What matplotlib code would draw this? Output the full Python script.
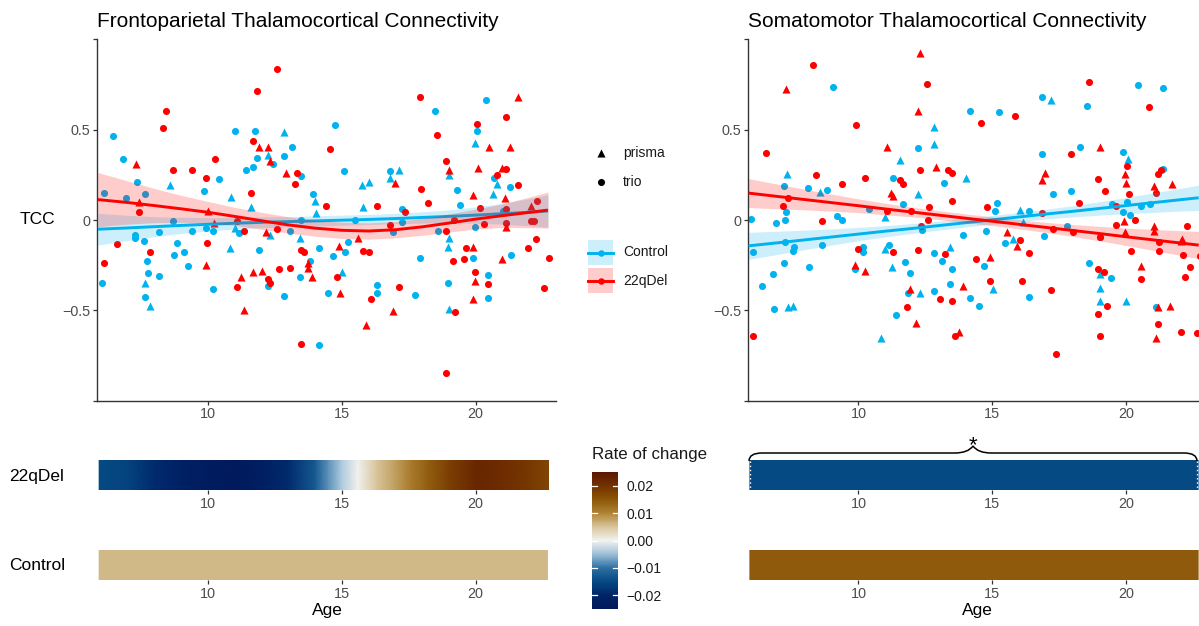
import numpy as np
import matplotlib
matplotlib.use("Agg")
import matplotlib.pyplot as plt
from matplotlib.colors import LinearSegmentedColormap, Normalize
from matplotlib.cm import ScalarMappable
from matplotlib.path import Path
from matplotlib.patches import PathPatch, Rectangle

plt.rcParams['font.family'] = ['Liberation Sans', 'DejaVu Sans']

# ---------------- data: frontoparietal panel ----------------
# grp: c = Control, d = 22qDel ; scan: p = prisma, t = trio
fp_age = [12.59, 11.84, 17.91, 21.57, 20.37, 8.43, 18.48, 21.14, 8.35, 14.75,
          6.45, 11.01, 11.76, 12.86, 20.05, 20.04, 18.56, 14.57, 13.16, 11.68,
          11.91, 12.26, 19.97, 20.49, 21.28, 6.85, 7.34, 10.27, 11.84, 12.26,
          12.33, 12.45, 12.86, 11.68, 18.88, 11.42, 8.70, 9.43, 20.08, 20.97,
          21.14, 19.00, 19.00, 20.81, 17.15, 16.82, 15.08, 12.93, 13.34, 13.50,
          9.92, 10.44, 20.70, 13.26, 16.82, 7.35, 8.60, 9.87, 16.98, 15.76,
          16.02, 19.31, 17.98, 21.57, 21.28, 20.81, 20.64, 21.08, 11.60, 10.86,
          11.60, 6.12, 7.67, 6.94, 18.24, 19.41, 13.99, 13.94, 14.03, 19.91,
          20.17, 22.06, 22.30, 16.32, 15.81, 7.45, 7.45, 14.41, 21.04, 21.14,
          10.00, 8.70, 11.10, 13.50, 15.51, 17.35, 17.25, 17.25, 19.18, 22.06,
          22.17, 21.14, 16.82, 19.97, 20.31, 21.14, 18.91, 18.58, 16.93, 11.34,
          10.20, 9.93, 10.25, 12.17, 12.59, 13.09, 11.02, 11.17, 8.20, 9.43,
          7.27, 7.27, 12.34, 7.63, 9.96, 6.61, 7.85, 8.84, 9.12, 8.75,
          11.93, 13.43, 19.02, 18.96, 15.60, 15.24, 14.16, 13.50, 13.60, 14.89,
          14.67, 15.13, 15.81, 16.02, 19.64, 19.91, 21.97, 17.91, 19.92, 19.57,
          19.16, 22.73, 20.98, 21.32, 7.73, 9.27, 13.83, 13.76, 13.75, 9.93,
          12.67, 13.09, 11.69, 12.02, 11.25, 13.91, 11.10, 12.26, 12.34, 7.77,
          8.19, 13.43, 15.01, 14.83, 19.97, 19.97, 20.48, 18.98, 20.48, 16.33,
          7.67, 10.84, 17.15, 16.32, 12.26, 7.67, 7.85, 10.19, 12.83, 14.49,
          14.92, 17.74, 16.08, 20.48, 19.92, 11.36, 16.91, 19.00, 19.24, 15.90,
          13.50, 14.16, 18.90, 6.05, 6.12, 22.57, 22.24]
fp_tcc = [0.836, 0.712, 0.683, 0.679, 0.662, 0.605, 0.601, 0.568, 0.507, 0.528,
          0.463, 0.494, 0.493, 0.487, 0.493, 0.531, 0.470, 0.395, 0.404, 0.437,
          0.406, 0.402, 0.428, 0.404, 0.404, 0.339, 0.310, 0.336, 0.343, 0.358,
          0.325, 0.308, 0.354, 0.293, 0.325, 0.275, 0.279, 0.275, 0.286, 0.286,
          0.282, 0.249, 0.277, 0.249, 0.277, 0.273, 0.269, 0.260, 0.260, 0.245,
          0.231, 0.225, 0.234, 0.197, 0.232, 0.212, 0.192, 0.161, 0.203, 0.192,
          0.210, 0.164, 0.170, 0.196, 0.181, 0.199, 0.146, 0.120, 0.151, 0.129,
          0.070, 0.151, 0.144, 0.120, 0.092, 0.083, 0.103, 0.142, 0.041, 0.137,
          0.066, 0.079, 0.107, 0.076, 0.072, 0.101, 0.044, 0.076, 0.050, 0.061,
          0.052, -0.004, -0.004, 0.000, 0.000, 0.042, 0.059, -0.013, 0.000, -0.004,
          -0.007, -0.015, -0.028, -0.039, -0.022, -0.037, -0.059, -0.059, -0.066, -0.061,
          -0.061, -0.046, -0.018, -0.066, -0.050, -0.061, -0.046, -0.074, -0.068, -0.061,
          -0.083, -0.101, -0.083, -0.116, -0.125, -0.131, -0.177, -0.129, -0.177, -0.194,
          -0.164, -0.098, -0.098, -0.148, -0.098, -0.122, -0.155, -0.164, -0.177, -0.144,
          -0.199, -0.179, -0.170, -0.175, -0.153, -0.151, -0.157, -0.208, -0.208, -0.216,
          -0.227, -0.212, -0.218, -0.192, -0.227, -0.253, -0.225, -0.236, -0.264, -0.247,
          -0.273, -0.268, -0.290, -0.280, -0.317, -0.317, -0.373, -0.327, -0.351, -0.292,
          -0.310, -0.317, -0.286, -0.317, -0.286, -0.336, -0.303, -0.347, -0.352, -0.360,
          -0.351, -0.157, -0.369, -0.406, -0.365, -0.428, -0.476, -0.382, -0.421, -0.402,
          -0.402, -0.417, -0.439, -0.432, -0.437, -0.498, -0.506, -0.493, -0.507, -0.581,
          -0.688, -0.692, -0.849, -0.351, -0.236, -0.378, -0.107]
fp_grp = ("ddddcdcddc" "cccccdddcd" "ddcddcddcc" "dcccdcdddd" "dcddcccddc"
          "dccdccccdc" "ccddcccddc" "ccccdccccd" "ddddcdddcd" "dcdccdccdd"
          "dddcdddccd" "ccdddccccc" "ccccdddccc" "ccccdccddd" "ccdddddccd"
          "dddccccddd" "dddddddddc" "cccdddccdc" "ccdccccccc" "dcdcdddcdd"
          "dcdcddd")
fp_scan = ("tttptttttt" "tttptttttt" "ppppptpttp" "ptttttttpp" "tpptpttptt"
           "ttttptptpp" "pttttppptp" "ptttttptpp" "tpttpptttt" "pttttttttt"
           "tttttptttt" "ttppttpttt" "ttpttttttt" "tppppttttp" "tttttptttt"
           "ttpttttppp" "ttpppptttt" "ttpttptttt" "ppttttpttt" "ptttpppptp"
           "ttttttt")

# smooth fits and half-width of the confidence ribbons
fit_age = [5.9, 7, 8, 9, 10, 11, 12, 13, 14, 15, 16, 17, 18, 19, 20, 21, 22, 22.7]
fp_con_fit = [-0.051, -0.044, -0.037, -0.030, -0.024, -0.018, -0.013, -0.009, -0.005,
              -0.001, 0.003, 0.008, 0.014, 0.020, 0.027, 0.035, 0.043, 0.050]
fp_con_se = [0.088, 0.070, 0.055, 0.045, 0.037, 0.032, 0.030, 0.028, 0.028,
             0.028, 0.028, 0.029, 0.031, 0.036, 0.045, 0.058, 0.075, 0.090]
fp_del_fit = [0.113, 0.097, 0.080, 0.062, 0.043, 0.020, -0.004, -0.027, -0.045,
              -0.057, -0.061, -0.054, -0.038, -0.017, 0.005, 0.024, 0.042, 0.055]
fp_del_se = [0.150, 0.120, 0.095, 0.075, 0.060, 0.050, 0.047, 0.045, 0.045,
             0.045, 0.045, 0.045, 0.047, 0.050, 0.055, 0.065, 0.085, 0.100]

# ---------------- data: somatomotor panel ----------------
sm_age = [12.31, 8.31, 12.56, 7.31, 9.06, 18.61, 20.44, 21.36, 16.84, 17.18,
          20.86, 18.53, 14.16, 15.25, 12.24, 15.84, 14.59, 9.90, 12.84, 12.84,
          11.06, 19.00, 12.24, 18.26, 6.56, 16.84, 17.93, 19.86, 20.05, 20.03,
          11.56, 12.91, 13.34, 13.51, 12.31, 21.36, 21.28, 7.35, 8.40, 10.24,
          11.31, 14.00, 9.39, 11.56, 11.65, 16.95, 16.85, 19.94, 20.00, 18.93,
          21.19, 21.02, 21.71, 7.21, 8.13, 8.56, 8.81, 13.18, 12.24, 11.21,
          11.31, 19.19, 17.93, 17.25, 20.09, 21.11, 11.65, 13.49, 7.20, 7.38,
          15.16, 14.81, 15.09, 18.25, 19.86, 19.46, 20.56, 20.90, 19.63, 20.03,
          20.13, 12.65, 11.96, 10.40, 11.06, 11.00, 9.21, 9.40, 7.29, 6.91,
          7.26, 8.65, 5.99, 12.59, 16.04, 16.36, 16.84, 16.15, 20.34, 19.91,
          19.61, 17.78, 17.28, 18.00, 19.96, 21.04, 21.03, 22.28, 19.03, 19.03,
          22.09, 21.21, 22.05, 12.38, 12.34, 13.91, 14.75, 15.56, 15.49, 15.77,
          16.03, 15.91, 16.91, 7.25, 7.59, 7.56, 9.99, 10.16, 10.16, 11.16,
          11.00, 11.31, 12.24, 13.41, 13.25, 12.84, 20.19, 21.21, 22.13, 22.75,
          16.35, 22.36, 6.06, 6.39, 6.81, 7.21, 8.14, 8.65, 14.40, 14.91,
          14.68, 13.13, 13.50, 11.74, 11.91, 11.24, 9.86, 9.86, 10.24, 18.59,
          18.94, 19.18, 19.00, 19.44, 20.53, 20.53, 22.19, 14.91, 16.09, 15.01,
          13.41, 13.91, 12.84, 13.06, 13.50, 12.31, 11.91, 11.84, 11.81, 11.41,
          12.15, 14.18, 14.50, 16.35, 6.85, 7.38, 7.55, 6.06, 10.84, 13.75,
          13.59, 17.18, 17.36, 19.00, 19.00, 18.94, 19.00, 19.28, 20.00, 21.19,
          21.11, 21.63, 21.19, 21.11, 22.03, 22.63]
sm_tcc = [0.923, 0.856, 0.755, 0.723, 0.736, 0.764, 0.749, 0.729, 0.679, 0.664,
          0.627, 0.631, 0.605, 0.596, 0.603, 0.577, 0.537, 0.526, 0.513, 0.419,
          0.406, 0.406, 0.399, 0.406, 0.369, 0.367, 0.365, 0.375, 0.336, 0.297,
          0.332, 0.295, 0.277, 0.258, 0.277, 0.282, 0.277, 0.255, 0.249, 0.231,
          0.231, 0.234, 0.199, 0.221, 0.199, 0.258, 0.221, 0.253, 0.207, 0.225,
          0.255, 0.190, 0.197, 0.188, 0.177, 0.153, 0.166, 0.207, 0.142, 0.151,
          0.133, 0.162, 0.162, 0.142, 0.144, 0.151, 0.087, 0.107, 0.077, 0.120,
          0.096, 0.074, 0.050, 0.096, 0.042, 0.087, 0.077, 0.087, 0.079, 0.101,
          0.028, 0.070, 0.050, 0.059, 0.050, 0.018, 0.022, 0.000, 0.044, -0.015,
          0.000, -0.007, 0.006, 0.000, 0.055, 0.052, 0.037, -0.009, 0.000, -0.004,
          -0.028, -0.031, -0.050, -0.068, -0.068, -0.033, -0.059, -0.031, -0.096, -0.092,
          -0.103, -0.124, -0.116, -0.055, -0.031, -0.085, -0.063, -0.068, -0.125, -0.103,
          -0.111, -0.146, -0.090, -0.120, -0.148, -0.170, -0.162, -0.149, -0.175, -0.140,
          -0.162, -0.175, -0.166, -0.148, -0.190, -0.185, -0.170, -0.170, -0.194, -0.199,
          -0.185, -0.258, -0.179, -0.363, -0.299, -0.240, -0.258, -0.138, -0.214, -0.203,
          -0.255, -0.225, -0.273, -0.231, -0.292, -0.258, -0.251, -0.269, -0.280, -0.240,
          -0.273, -0.286, -0.299, -0.323, -0.253, -0.327, -0.314, -0.338, -0.336, -0.382,
          -0.354, -0.365, -0.391, -0.437, -0.448, -0.406, -0.380, -0.406, -0.483, -0.524,
          -0.572, -0.434, -0.476, -0.426, -0.494, -0.482, -0.476, -0.644, -0.655, -0.620,
          -0.642, -0.387, -0.742, -0.378, -0.446, -0.522, -0.640, -0.474, -0.446, -0.483,
          -0.483, -0.478, -0.576, -0.651, -0.618, -0.627]
sm_grp = ("ddddcdcccc" "dcccddddcc" "ddccdcdccd" "cddddcdcdd" "ccdddddddd"
          "dddccccccd" "ddccddcddd" "cdcdccccdc" "cddcdccccc" "cdcdccdcdd"
          "dcddddddcd" "dddcdccdcc" "ddccccdccc" "cddcdcdddd" "ddccccccdd"
          "ccccccdcdc" "ddccdddddc" "cdcddcdcdc" "dccccccdcd" "dddccdddcd"
          "cddddd")
sm_scan = ("pttptttttp" "ttttptttpp" "ppttttttpt" "pptttttptt" "tptttppppt"
           "tppttpttpp" "pttttttttt" "tttttttttt" "tttttptttt" "ttttpttptp"
           "ttttpppttt" "ptpttttptp" "tptttttttt" "pttptttttt" "tttttttttp"
           "tttttpptpt" "ttptpttttp" "tptttppttt" "pttttpptpp" "tttpptttpp"
           "tptptt")

sm_con_fit = [-0.143, -0.126, -0.110, -0.094, -0.078, -0.062, -0.047, -0.031, -0.015,
              0.001, 0.017, 0.033, 0.048, 0.064, 0.080, 0.096, 0.112, 0.123]
sm_con_se = [0.075, 0.064, 0.054, 0.045, 0.037, 0.031, 0.027, 0.025, 0.024,
             0.024, 0.025, 0.027, 0.031, 0.037, 0.045, 0.054, 0.063, 0.070]
sm_del_fit = [0.149, 0.130, 0.113, 0.096, 0.079, 0.061, 0.044, 0.027, 0.010,
              -0.007, -0.024, -0.041, -0.058, -0.075, -0.093, -0.110, -0.127, -0.139]
sm_del_se = [0.080, 0.068, 0.057, 0.047, 0.038, 0.032, 0.027, 0.025, 0.024,
             0.024, 0.025, 0.028, 0.033, 0.040, 0.048, 0.058, 0.068, 0.076]

# ---------------- data: rate of change bars ----------------
fp_rate_age = [5.95, 7, 8, 9, 10, 11, 12, 13, 14, 14.5, 15, 15.6, 16.3, 17, 17.6,
               18.2, 19, 20, 21, 22, 22.72]
fp_del_rate = [-0.015, -0.016, -0.019, -0.021, -0.023, -0.024, -0.022, -0.019, -0.013,
               -0.008, -0.004, 0.0, 0.005, 0.008, 0.011, 0.014, 0.018, 0.022, 0.021,
               0.019, 0.017]
const_age = [5.95, 22.68]
fp_con_rate = [0.006, 0.006]
sm_del_rate = [-0.015, -0.015]
sm_con_rate = [0.0145, 0.0145]

cbar_ticks = [-0.02, -0.01, 0.0, 0.01, 0.02]
cbar_labels = ['\u22120.02', '\u22120.01', '0.00', '0.01', '0.02']

# ---------------- style ----------------
BLUE = '#00B2EE'
RED = '#FF0000'
W, H = 1199, 626
GREY_TXT = '#4D4D4D'
GREY_LN = '#333333'

cmap = LinearSegmentedColormap.from_list('roc', [
    (0.0, '#00185A'), (0.1, '#002468'), (0.2, '#064A84'), (0.3, '#2E70A3'),
    (0.4, '#9DC0D8'), (0.5, '#F2F2F0'), (0.6, '#D8C59B'), (0.7, '#B08435'),
    (0.8, '#8C5608'), (0.9, '#733100'), (1.0, '#5A1800')])
norm = Normalize(-0.025, 0.025)

fig = plt.figure(figsize=(W / 100, H / 100), dpi=100)


def px_axes(x0, y0, x1, y1):
    return fig.add_axes([x0 / W, 1 - y1 / H, (x1 - x0) / W, (y1 - y0) / H])


def draw_scatter(ax, age, tcc, grp, scan, con_fit, con_se, del_fit, del_se, ylabels):
    age = np.array(age)
    tcc = np.array(tcc)
    grp = np.array(list(grp))
    scan = np.array(list(scan))
    for g, col in (('c', BLUE), ('d', RED)):
        for s, mk, size in (('t', 'o', 26), ('p', '^', 34)):
            m = (grp == g) & (scan == s)
            ax.scatter(age[m], tcc[m], marker=mk, s=size, color=col, linewidths=0, zorder=2)
    fa = np.array(fit_age)
    for fit, se, col in ((con_fit, con_se, BLUE), (del_fit, del_se, RED)):
        fit = np.array(fit)
        se = np.array(se)
        ax.fill_between(fa, fit - se, fit + se, color=col, alpha=0.2, lw=0, zorder=3)
        ax.plot(fa, fit, color=col, lw=2.1, zorder=3, solid_capstyle='butt')
    ax.set_xlim(5.88, 23.0)
    ax.set_ylim(-1.0, 1.0)
    ax.set_xticks([10, 15, 20])
    ax.set_yticks([-1, -0.5, 0, 0.5, 1])
    ax.set_yticklabels(ylabels)
    for sp in ('top', 'right'):
        ax.spines[sp].set_visible(False)
    for sp in ('left', 'bottom'):
        ax.spines[sp].set_color(GREY_LN)
        ax.spines[sp].set_linewidth(1.0)
    ax.tick_params(length=2.75, width=0.9, color=GREY_LN, labelcolor=GREY_TXT,
                   labelsize=10.4, pad=2)
    ax.patch.set_visible(False)


def draw_bar(ax, rate_age, rate):
    X, Y = np.meshgrid(np.array(rate_age), [0, 1])
    C = np.vstack([rate, rate])
    ax.pcolormesh(X, Y, C, cmap=cmap, norm=norm, shading='gouraud')
    ax.set_xlim(5.88, 23.0)
    ax.set_ylim(0, 1)
    ax.set_xticks([10, 15, 20])
    ax.set_yticks([])
    for sp in ax.spines.values():
        sp.set_visible(False)
    ax.tick_params(length=2.75, width=0.9, color=GREY_LN, labelcolor=GREY_TXT,
                   labelsize=10.4, pad=2)


ylab = ['', '\u22120.5', '0', '0.5', '']
ax1 = px_axes(97.3, 39.3, 556, 400.7)
draw_scatter(ax1, fp_age, fp_tcc, fp_grp, fp_scan, fp_con_fit, fp_con_se,
             fp_del_fit, fp_del_se, ylab)
ax2 = px_axes(748, 39.3, 1206.7, 400.7)
draw_scatter(ax2, sm_age, sm_tcc, sm_grp, sm_scan, sm_con_fit, sm_con_se,
             sm_del_fit, sm_del_se, ylab)

b1 = px_axes(97.3, 460, 556, 490)
draw_bar(b1, fp_rate_age, fp_del_rate)
b2 = px_axes(97.3, 550, 556, 580)
draw_bar(b2, const_age, fp_con_rate)
b3 = px_axes(748, 460, 1206.7, 490)
draw_bar(b3, const_age, sm_del_rate)
b4 = px_axes(748, 550, 1206.7, 580)
draw_bar(b4, const_age, sm_con_rate)

# colour bar
cax = px_axes(592, 472, 618, 609)
cb = fig.colorbar(ScalarMappable(norm=norm, cmap=cmap), cax=cax)
cb.outline.set_visible(False)
cb.set_ticks(cbar_ticks)
cb.set_ticklabels(cbar_labels)
cax.tick_params(length=0, labelsize=10, labelcolor='#1A1A1A', pad=6)
tr = cax.get_yaxis_transform()
for t in cbar_ticks:
    cax.plot([0, 0.2], [t, t], color='white', lw=0.9, transform=tr)
    cax.plot([0.8, 1], [t, t], color='white', lw=0.9, transform=tr)

# overlay for titles, legend and annotations (pixel coordinates)
ov = fig.add_axes([0, 0, 1, 1], zorder=10)
ov.set_xlim(0, W)
ov.set_ylim(H, 0)
ov.axis('off')
ov.patch.set_visible(False)

ov.text(97, 27, 'Frontoparietal Thalamocortical Connectivity', fontsize=15,
        va='baseline', ha='left', color='black')
ov.text(748, 27, 'Somatomotor Thalamocortical Connectivity', fontsize=15,
        va='baseline', ha='left', color='black')
ov.text(37, 220, 'TCC', fontsize=12.5, ha='center', va='center', color='black')
ov.text(9, 477, '22qDel', fontsize=12.5, ha='left', va='center', color='black')
ov.text(9, 566, 'Control', fontsize=12.5, ha='left', va='center', color='black')
ov.text(327, 611, 'Age', fontsize=12.5, ha='center', va='center', color='black')
ov.text(977, 611, 'Age', fontsize=12.5, ha='center', va='center', color='black')
ov.text(592, 455, 'Rate of change', fontsize=12.2, ha='left', va='center', color='#1A1A1A')

# shape legend
ov.scatter([600.7], [153], marker='^', s=34, color='black', linewidths=0)
ov.scatter([600.7], [182], marker='o', s=26, color='black', linewidths=0)
ov.text(623, 153, 'prisma', fontsize=10, va='center', color='#1A1A1A')
ov.text(623, 182, 'trio', fontsize=10, va='center', color='#1A1A1A')
# colour legend
for y0, col, lab in ((240, BLUE, 'Control'), (268, RED, '22qDel')):
    ov.add_patch(Rectangle((588, y0), 25, 25, facecolor=col, alpha=0.2, lw=0))
    ov.plot([588, 613], [y0 + 12.5, y0 + 12.5], color=col, lw=2.1)
    ov.scatter([600.5], [y0 + 12.5], s=22, color=col, linewidths=0)
    ov.text(623, y0 + 12.5, lab, fontsize=10, va='center', color='#1A1A1A')

# brace with significance star over the somatomotor 22qDel bar
verts = [(749, 461), (749, 453), (762, 453), (955, 453), (968, 453), (973, 446),
         (978, 453), (991, 453), (1184, 453), (1197, 453), (1197, 461)]
codes = [Path.MOVETO, Path.CURVE3, Path.CURVE3, Path.LINETO, Path.CURVE3, Path.CURVE3,
         Path.CURVE3, Path.CURVE3, Path.LINETO, Path.CURVE3, Path.CURVE3]
ov.add_patch(PathPatch(Path(verts, codes), facecolor='none', edgecolor='black', lw=1.1))
ov.text(973, 446, '*', fontsize=16, ha='center', va='center', color='black')
# dotted white edges of the somatomotor 22qDel bar
ov.plot([749.5, 749.5], [461, 490], color='white', lw=1, ls=(0, (1, 2)))
ov.plot([1197, 1197], [461, 490], color='white', lw=1, ls=(0, (1, 2)))

fig.savefig('out.png', dpi=100)
